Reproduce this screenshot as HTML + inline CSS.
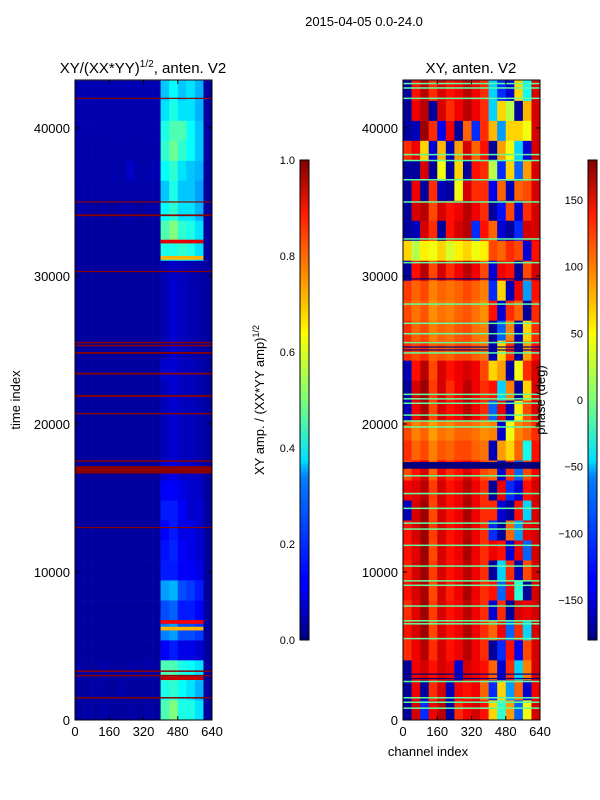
<!DOCTYPE html>
<html><head><meta charset="utf-8"><style>
body{margin:0;background:#fff;}
svg{display:block;font-family:"Liberation Sans","DejaVu Sans",sans-serif;}
</style></head><body>
<svg id="fig" width="600" height="800" viewBox="0 0 600 800">
<defs>
<linearGradient id="jet" x1="0" y1="1" x2="0" y2="0">
<stop offset="0" stop-color="#00007f"/><stop offset="0.11" stop-color="#0000ff"/><stop offset="0.125" stop-color="#0000ff"/>
<stop offset="0.34" stop-color="#0080ff"/><stop offset="0.375" stop-color="#00e0ff"/><stop offset="0.5" stop-color="#7dff7a"/>
<stop offset="0.64" stop-color="#ffff00"/><stop offset="0.66" stop-color="#ffe600"/><stop offset="0.89" stop-color="#ff1a00"/><stop offset="1" stop-color="#7f0000"/>
</linearGradient>
</defs>
<text x="364" y="26" font-size="13" text-anchor="middle">2015-04-05 0.0-24.0</text>
<text x="143" y="73" font-size="15" text-anchor="middle">XY/(XX*YY)<tspan dy="-6" font-size="10">1/2</tspan><tspan dy="6">, anten. V2</tspan></text>
<text x="471" y="73" font-size="15" text-anchor="middle">XY, anten. V2</text>
<g id="left"></g>
<g id="right"></g>
<g id="axes"></g>
<text transform="translate(20,400) rotate(-90)" font-size="13" text-anchor="middle">time index</text>
<text x="428" y="756" font-size="13" text-anchor="middle">channel index</text>
<rect x="300" y="160" width="9" height="480" fill="url(#jet)" stroke="#000" stroke-width="1"/>
<rect x="588" y="160" width="9" height="480" fill="url(#jet)" stroke="#000" stroke-width="1"/>
<text transform="translate(264,400) rotate(-90)" font-size="13" text-anchor="middle">XY amp. / (XX*YY amp)<tspan dy="-5" font-size="9">1/2</tspan></text>
<text transform="translate(545,400) rotate(-90)" font-size="13" text-anchor="middle">phase (deg)</text>
</svg>
<script>
const ampTicks=[0.0,0.2,0.4,0.6,0.8,1.0];
const phaseTicks=[-150,-100,-50,0,50,100,150];
const xTicks=[0,160,320,480,640];
const yTicks=[0,10000,20000,30000,40000];
const rowSize=1350;
const colSize=40;
const ampGrid=[
[.03,.04,.03,.04,.03,.03,.04,.03,.04,.03,.45,.5,.4,.4,.35,.03],
[.03,.03,.04,.03,.03,.04,.03,.03,.03,.03,.4,.42,.38,.35,.3,.03],
[.04,.03,.03,.04,.03,.03,.04,.03,.04,.03,.45,.45,.4,.38,.35,.03],
[.03,.03,.03,.03,.03,.03,.03,.03,.03,.03,.12,.15,.1,.1,.08,.03],
[.03,.03,.03,.03,.03,.03,.03,.03,.03,.03,.25,.28,.2,.2,.18,.03],
[.03,.03,.03,.03,.03,.03,.03,.03,.03,.03,.2,.22,.15,.15,.12,.03],
[.03,.03,.03,.03,.03,.03,.03,.03,.03,.03,.28,.3,.2,.18,.15,.03],
[.03,.03,.03,.03,.03,.03,.03,.03,.03,.03,.15,.15,.12,.12,.1,.03],
[.03,.03,.03,.03,.03,.03,.03,.03,.03,.03,.14,.16,.12,.1,.08,.03],
[.03,.03,.03,.03,.03,.03,.03,.03,.03,.03,.12,.15,.1,.1,.08,.03],
[.03,.03,.03,.03,.03,.03,.03,.03,.03,.03,.15,.15,.12,.08,.08,.03],
[.03,.03,.03,.03,.03,.03,.03,.03,.03,.03,.12,.12,.1,.08,.07,.03],
[.03,.03,.03,.03,.03,.03,.03,.03,.03,.03,.08,.1,.07,.07,.06,.03],
[.03,.03,.03,.03,.03,.03,.03,.03,.03,.03,.06,.08,.06,.06,.05,.03],
[.03,.03,.03,.03,.03,.03,.03,.03,.03,.03,.06,.08,.06,.06,.05,.03],
[.03,.03,.03,.03,.03,.03,.03,.03,.03,.03,.06,.08,.06,.06,.05,.03],
[.03,.03,.03,.03,.03,.03,.03,.03,.03,.03,.06,.08,.06,.06,.05,.03],
[.03,.03,.03,.03,.03,.03,.03,.03,.03,.03,.08,.08,.06,.06,.05,.03],
[.03,.03,.03,.03,.03,.03,.03,.03,.03,.03,.05,.08,.06,.05,.04,.03],
[.03,.03,.03,.03,.03,.03,.03,.03,.03,.03,.05,.08,.06,.05,.04,.03],
[.03,.03,.03,.03,.03,.03,.03,.03,.03,.03,.05,.08,.06,.05,.04,.03],
[.03,.03,.03,.03,.03,.03,.03,.03,.03,.03,.05,.08,.06,.05,.04,.03],
[.03,.03,.03,.03,.03,.03,.03,.03,.03,.03,.05,.07,.06,.05,.04,.03],
[.03,.03,.03,.03,.03,.03,.03,.03,.03,.03,.4,.4,.42,.4,.35,.03],
[.03,.03,.03,.03,.03,.03,.03,.03,.03,.03,.45,.5,.42,.4,.35,.03],
[.04,.04,.03,.04,.03,.04,.04,.03,.04,.04,.38,.42,.35,.35,.3,.03],
[.04,.04,.04,.04,.04,.04,.04,.04,.04,.04,.32,.4,.32,.32,.28,.03],
[.045,.04,.045,.04,.045,.04,.07,.04,.045,.05,.38,.42,.35,.32,.3,.03],
[.045,.04,.04,.04,.04,.045,.04,.04,.04,.045,.42,.48,.42,.38,.32,.03],
[.045,.045,.045,.045,.045,.045,.045,.045,.045,.045,.4,.45,.45,.38,.32,.03],
[.045,.045,.045,.045,.045,.045,.045,.045,.045,.045,.35,.4,.35,.35,.3,.03],
[.05,.05,.05,.05,.05,.05,.05,.05,.05,.05,.32,.38,.32,.35,.3,.03]];
const ampLineTimes=[1500,3000,3300,13000,16800,17000,17500,20700,21900,23400,24800,25300,25500,30300,34100,35000,42000];
const ampLineWidths=[100,100,100,80,300,300,100,100,120,120,120,100,100,80,120,80,80];
const brightBandTimes=[2700,6500,6050,32200,31100];
const brightBandValues=[0.93,0.88,0.7,0.9,0.7];
const phaseGrid=[
[-170,150,-120,140,160,-170,120,140,150,130,60,-30,80,-100,40,150],
[-170,140,-170,120,150,-160,140,130,140,100,-120,60,-80,100,-150,140],
[-170,140,150,130,150,140,-150,150,140,130,100,-150,120,-60,90,150],
[120,140,160,120,150,130,140,160,140,120,-170,-120,130,-140,110,150],
[130,150,170,110,150,130,140,165,140,120,100,140,-100,120,-60,150],
[120,145,170,115,150,130,140,160,140,120,-150,120,-170,150,140,150],
[130,150,165,110,150,125,140,165,140,120,130,-100,140,-30,-170,150],
[125,150,170,115,150,130,140,160,140,120,-170,-60,120,-160,110,150],
[130,145,170,110,150,130,140,165,140,120,140,130,-150,140,-100,150],
[130,150,170,115,150,130,140,160,140,120,-120,-170,100,-80,140,150],
[-160,150,170,110,150,130,140,165,140,120,120,-150,-170,130,-60,150],
[140,145,160,115,150,130,140,160,140,120,-170,140,-120,-150,130,150],
[110,130,150,100,140,120,130,150,130,110,100,-150,120,-100,110,140],
[120,100,110,90,105,100,110,110,100,95,-160,80,60,100,-40,130],
[110,90,100,80,95,90,100,100,95,85,90,-150,40,90,100,120],
[-160,140,165,110,150,130,140,160,140,120,-100,140,-160,50,110,150],
[-170,150,170,115,150,120,140,160,140,120,130,-60,90,-170,60,150],
[-160,130,160,110,150,130,140,150,140,110,60,80,-170,40,120,150],
[120,110,120,100,105,100,110,110,100,95,-160,60,120,-170,80,130],
[120,100,110,90,100,95,105,110,95,90,-170,-100,90,-160,60,120],
[110,95,105,85,95,90,100,105,95,85,130,-150,120,100,-170,120],
[115,100,110,90,100,95,100,110,100,90,-120,60,-160,140,-80,130],
[-170,130,160,110,150,120,140,160,140,110,-150,140,130,-170,110,150],
[60,20,50,40,60,30,50,60,40,50,110,100,120,110,-150,130],
[-170,-160,150,120,-170,130,150,160,-120,130,100,-150,-170,-120,150,150],
[-170,150,160,110,150,130,140,160,140,120,-170,-130,110,-150,120,150],
[-170,140,-170,120,-160,-170,40,150,120,120,-140,100,-160,100,110,150],
[-170,-170,150,-170,40,-170,60,-170,130,120,20,-120,60,-100,80,150],
[120,140,60,-150,70,-160,80,150,100,130,-170,80,40,-60,-150,150],
[-170,-160,170,120,-140,140,-170,100,-120,120,70,-80,60,60,40,150],
[-170,140,160,-170,150,120,140,160,140,120,-60,60,20,-170,70,150],
[-170,130,160,120,150,130,140,160,140,120,-60,-120,-150,60,-40,150]];
const phaseGreenTimes=[800,1200,1500,2600,5500,6500,6700,7700,9100,9400,10400,11800,12900,13300,14300,15300,16500,19800,20200,20600,21400,21700,22000,24800,25500,26100,26800,28100,30900,32500,35000,36500,37800,38200,42000,42700,43000];
const phaseBlueTimes=[2800,3100,17200,25000,25200,29800];
const phaseBlueWidths=[80,80,450,80,80,80];

function jet(v){v=Math.max(0,Math.min(1,v));
 const r=Math.max(0,Math.min(1,Math.min(4*v-1.5,-4*v+4.5)));
 const g=Math.max(0,Math.min(1,Math.min(4*v-0.5,-4*v+3.5)));
 const b=Math.max(0,Math.min(1,Math.min(4*v+0.5,-4*v+2.5)));
 return `rgb(${Math.round(r*255)},${Math.round(g*255)},${Math.round(b*255)})`;}
const NS="http://www.w3.org/2000/svg";
const yTop=80,yBot=720,tMax=43240;
function ys(t){return yBot-(t/tMax)*(yBot-yTop);}
function xsL(c){return 75+c/640*137;}
function xsR(c){return 403+c/640*137;}
function mk(tag,attrs,parent){const e=document.createElementNS(NS,tag);for(const k in attrs)e.setAttribute(k,attrs[k]);parent.appendChild(e);return e;}

const L=document.getElementById('left'),R=document.getElementById('right');
function drawGrid(g,grid,xs,norm,name){
 grid.forEach((row,i)=>{row.forEach((v,j)=>{
  const x0=xs(j*colSize),x1=xs((j+1)*colSize),y0=ys((i+1)*rowSize),y1=ys(i*rowSize);
  const r=mk('rect',{x:x0,y:y0,width:x1-x0+0.3,height:y1-y0+0.3,fill:jet(norm(v))},g);
  
  
 });});
}
drawGrid(L,ampGrid,xsL,v=>v,'amplitude-cell');
drawGrid(R,phaseGrid,xsR,v=>(v+180)/360,'phase-cell');
brightBandTimes.forEach((t,i)=>{
 const r=mk('rect',{x:xsL(400),y:ys(t+250),width:xsL(600)-xsL(400),height:ys(t)-ys(t+250),fill:jet(brightBandValues[i])},L);
 
 
});
ampLineTimes.forEach((t,i)=>{
 const w=ampLineWidths[i];
 const r=mk('rect',{x:75,y:ys(t+w/2),width:137,height:Math.max(1,ys(t-w/2)-ys(t+w/2)),fill:'#8b0000'},L);
 
 
});
phaseGreenTimes.forEach(t=>{
 const r=mk('rect',{x:403,y:ys(t)-0.75,width:137,height:1.5,fill:jet(0.47)},R);
 
 
});
phaseBlueTimes.forEach((t,i)=>{
 const w=phaseBlueWidths[i];
 const r=mk('rect',{x:403,y:ys(t+w/2),width:137,height:Math.max(1,ys(t-w/2)-ys(t+w/2)),fill:'#00007f'},R);
 
 
});

const A=document.getElementById('axes');
[[75,xsL,'left'],[403,xsR,'right']].forEach(([x0,xs,side])=>{
 const f=mk('rect',{x:x0,y:yTop,width:137,height:640,fill:'none',stroke:'#000','stroke-width':1},A);
 
 
 xTicks.forEach(c=>{
  const x=xs(c);
  mk('line',{x1:x,x2:x,y1:yBot,y2:yBot-4,stroke:'#000'},A);
  mk('line',{x1:x,x2:x,y1:yTop,y2:yTop+4,stroke:'#000'},A);
  const t=mk('text',{x:x,y:736,'font-size':13,'text-anchor':'middle'},A);
  t.textContent=c;
  
  
 });
 yTicks.forEach(v=>{
  const y=ys(v);
  mk('line',{x1:x0,x2:x0+4,y1:y,y2:y,stroke:'#000'},A);
  mk('line',{x1:x0+137,x2:x0+133,y1:y,y2:y,stroke:'#000'},A);
  const t=mk('text',{x:x0-5,y:y+5,'font-size':13,'text-anchor':'end'},A);
  t.textContent=v;
  
  
 });
});
ampTicks.forEach(v=>{
 const y=640-v*480;
 mk('line',{x1:300,x2:304,y1:y,y2:y,stroke:'#000'},A);
 mk('line',{x1:309,x2:305,y1:y,y2:y,stroke:'#000'},A);
 const t=mk('text',{x:295,y:y+4,'font-size':11,'text-anchor':'end'},A);
 t.textContent=v.toFixed(1);
 
 
});
phaseTicks.forEach(v=>{
 const y=400-v*480/360;
 mk('line',{x1:588,x2:592,y1:y,y2:y,stroke:'#000'},A);
 mk('line',{x1:597,x2:593,y1:y,y2:y,stroke:'#000'},A);
 const t=mk('text',{x:583,y:y+4,'font-size':11,'text-anchor':'end'},A);
 t.textContent=v<0?'\u2212'+(-v):v;
 
 
});
</script>
</body></html>
